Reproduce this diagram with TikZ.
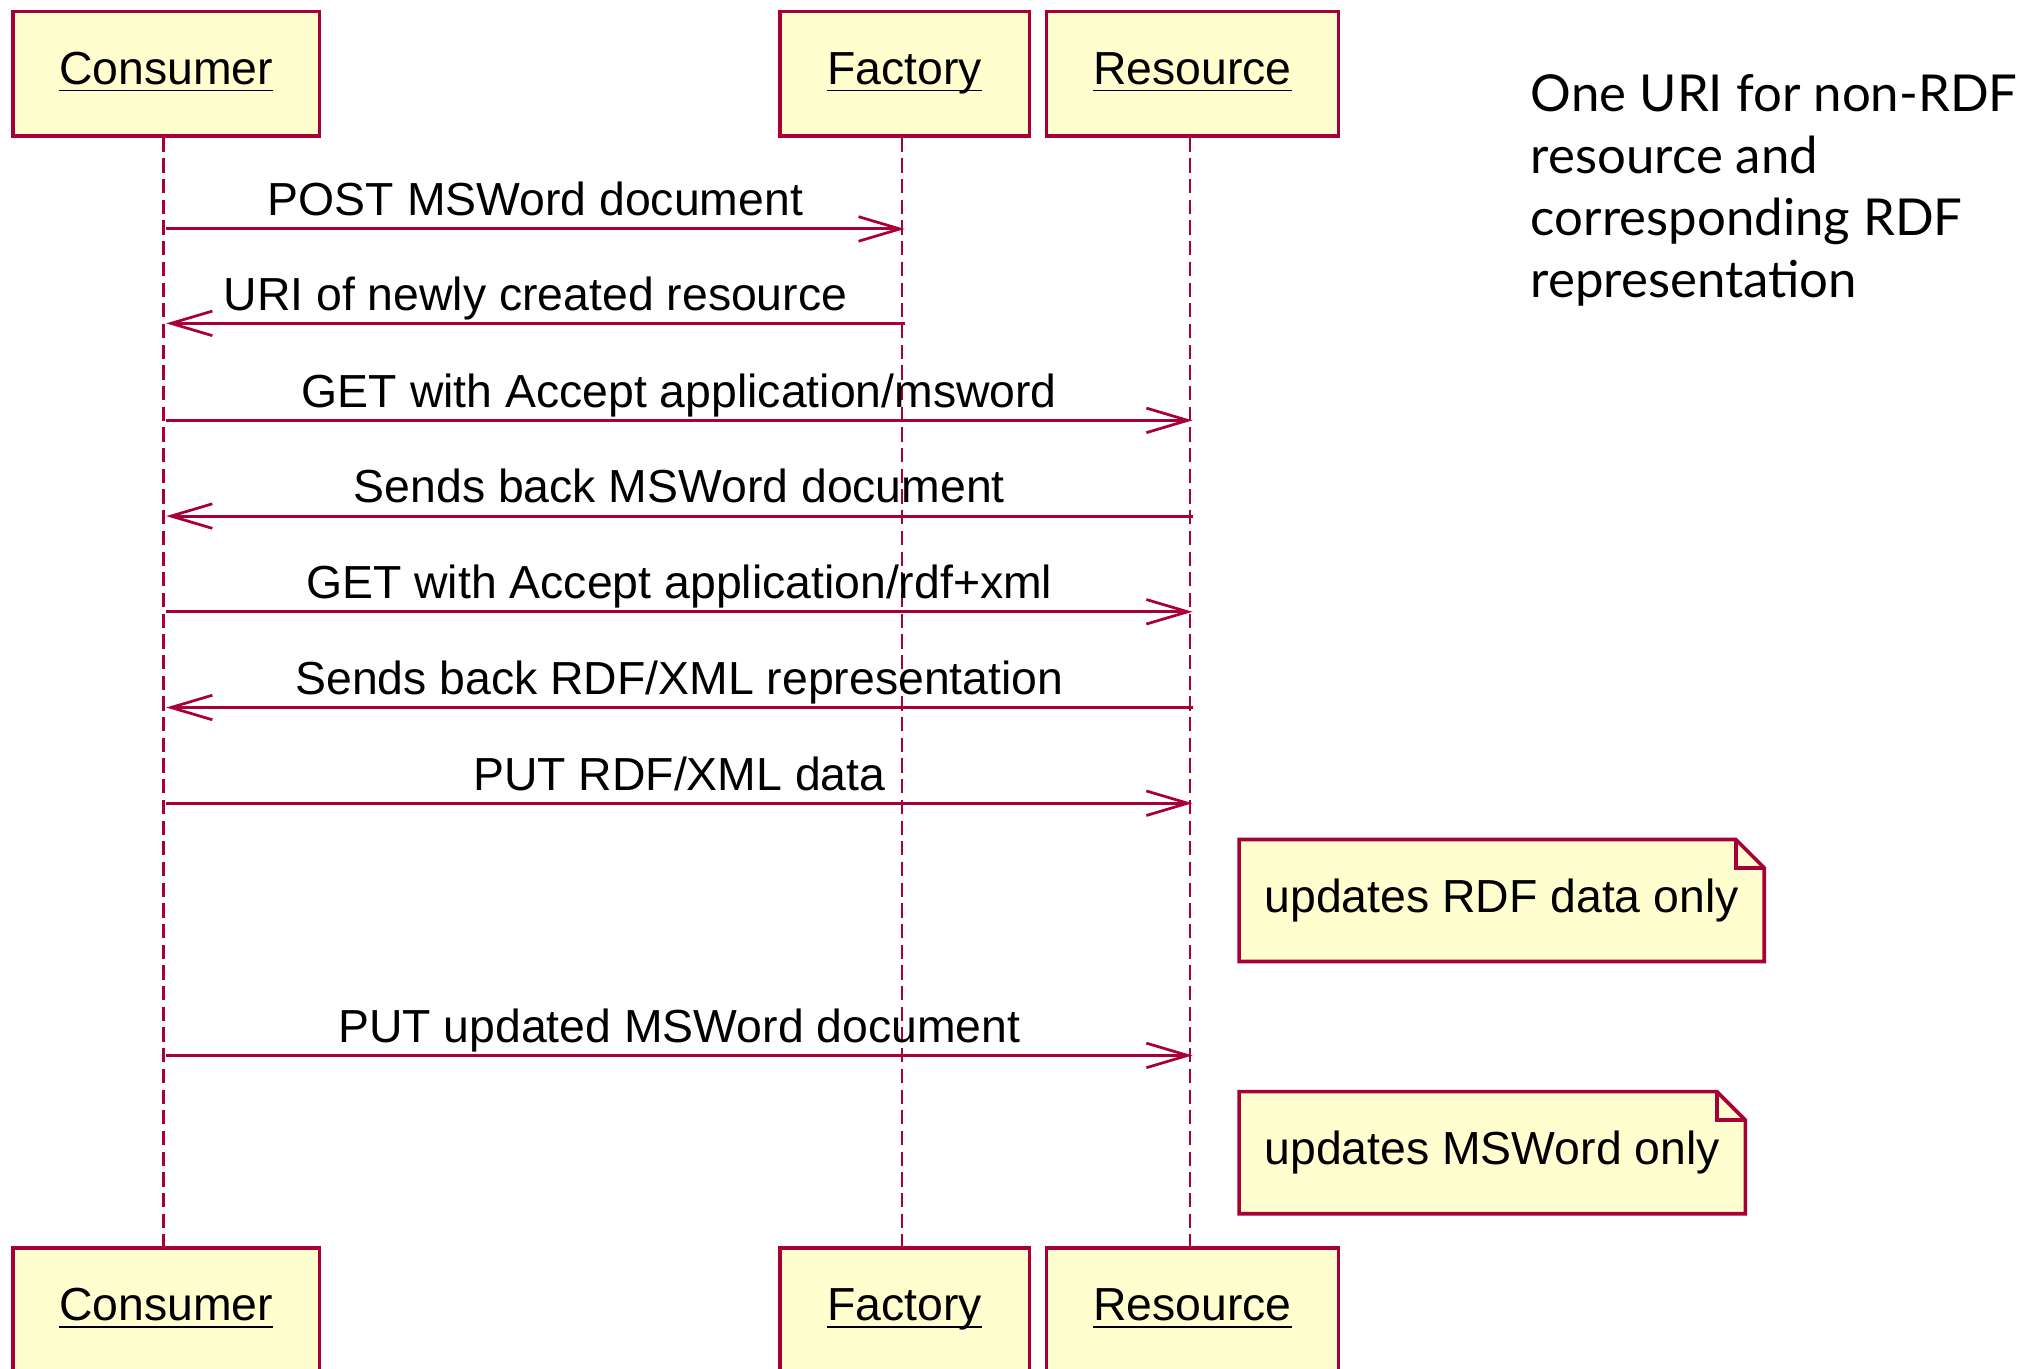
\documentclass[tikz,border=0pt]{standalone}
\usepackage{fontspec}
\setmainfont{Liberation Sans}
\newfontfamily\gillfont{Lato}
\usetikzlibrary{arrows.meta,backgrounds}
\definecolor{umlred}{HTML}{A80036}
\definecolor{umlfill}{HTML}{FEFECE}
\tikzset{
	actor/.style={draw=umlred, fill=umlfill, line width=0.8pt, minimum height=0.96cm, inner sep=0pt, text height=2.6mm, text depth=1mm, font=\fontsize{10.2}{12}\selectfont},
	life/.style={umlred, line width=0.55pt, dash pattern=on 1.1mm off 0.5mm},
	msg/.style={umlred, line width=0.65pt, -{Straight Barb[length=3.2mm, width=1.9mm, line width=0.6pt]}},
	lbl/.style={anchor=base, yshift=2.9pt, inner sep=0pt, text=black, font=\fontsize{10.2}{12}\selectfont},
	notetext/.style={anchor=north west, inner xsep=0.19cm, inner ysep=0pt, minimum height=0.93cm, font=\fontsize{10.2}{12}\selectfont},
	notebg/.style={draw=umlred, fill=umlfill, line width=0.8pt}
}

\begin{document}
\begin{tikzpicture}
	\path[use as bounding box, clip] (0,0) rectangle (15.68,-10.58);
	%\draw[help lines] (0,0) grid (15,-10);
	\node[actor, minimum width=2.37cm] (consumer) at (1.285,-0.57) {\underline{\smash{Consumer}}};
	\node[actor, minimum width=1.93cm] (factory) at (6.995,-0.57) {\underline{\smash{Factory}}};
	\node[actor, minimum width=2.26cm] (resource) at (9.22,-0.57) {\underline{\smash{Resource}}};
	\node[actor, minimum width=2.37cm] (consumer2) at (1.285,-10.13) {\underline{\smash{Consumer}}};
	\node[actor, minimum width=1.93cm] (factory2) at (6.995,-10.13) {\underline{\smash{Factory}}};
	\node[actor, minimum width=2.26cm] (resource2) at (9.22,-10.13) {\underline{\smash{Resource}}};
	\draw[life] ([xshift=-0.2mm]consumer.south) -- ([xshift=-0.2mm]consumer2.north);
	\draw[life] ([xshift=-0.2mm]factory.south) -- ([xshift=-0.2mm]factory2.north);
	\draw[life] ([xshift=-0.2mm]resource.south) -- ([xshift=-0.2mm]resource2.north);

	\draw[msg] (consumer |- 0,-1.77) -- node[lbl] {POST MSWord document} (factory |- 0,-1.77);
	\draw[msg] (factory |- 0,-2.50) -- node[lbl] {URI of newly created resource} (consumer |- 0,-2.50);
	\draw[msg] (consumer |- 0,-3.25) -- node[lbl] {GET with Accept application/msword} (resource |- 0,-3.25);
	\draw[msg] (resource |- 0,-3.99) -- node[lbl] {Sends back MSWord document} (consumer |- 0,-3.99);
	\draw[msg] (consumer |- 0,-4.73) -- node[lbl] {GET with Accept application/rdf+xml} (resource |- 0,-4.73);
	\draw[msg] (resource |- 0,-5.47) -- node[lbl] {Sends back RDF/XML representation} (consumer |- 0,-5.47);
	\draw[msg] (consumer |- 0,-6.21) -- node[lbl] {PUT RDF/XML data} (resource |- 0,-6.21);
	\draw[msg] (consumer |- 0,-8.16) -- node[lbl] {PUT updated MSWord document} (resource |- 0,-8.16);

	% notes
	\node[notetext] (rdfnote) at (9.58,-6.49) {updates RDF data only};
	\node[notetext] (wordnote) at (9.58,-8.44) {updates MSWord only};
	\begin{scope}[on background layer]
		\filldraw[notebg] (rdfnote.south west) -- (rdfnote.north west) -- ([xshift=-2.2mm]rdfnote.north east) -- ([yshift=-2.2mm]rdfnote.north east) -- (rdfnote.south east) -- cycle;
		\filldraw[notebg] (wordnote.south west) -- (wordnote.north west) -- ([xshift=-2.2mm]wordnote.north east) -- ([yshift=-2.2mm]wordnote.north east) -- (wordnote.south east) -- cycle;
	\end{scope}
	\draw[notebg, fill=none] ([xshift=-2.2mm]rdfnote.north east) |- ([yshift=-2.2mm]rdfnote.north east);
	\draw[notebg, fill=none] ([xshift=-2.2mm]wordnote.north east) |- ([yshift=-2.2mm]wordnote.north east);

	\node[anchor=north west, inner sep=0pt, align=left, font=\gillfont\fontsize{11.2}{13.6}\selectfont] (remark) at (11.83,-0.57) {One URI for non-RDF\\resource and\\corresponding RDF\\representation};
\end{tikzpicture}
\end{document}
